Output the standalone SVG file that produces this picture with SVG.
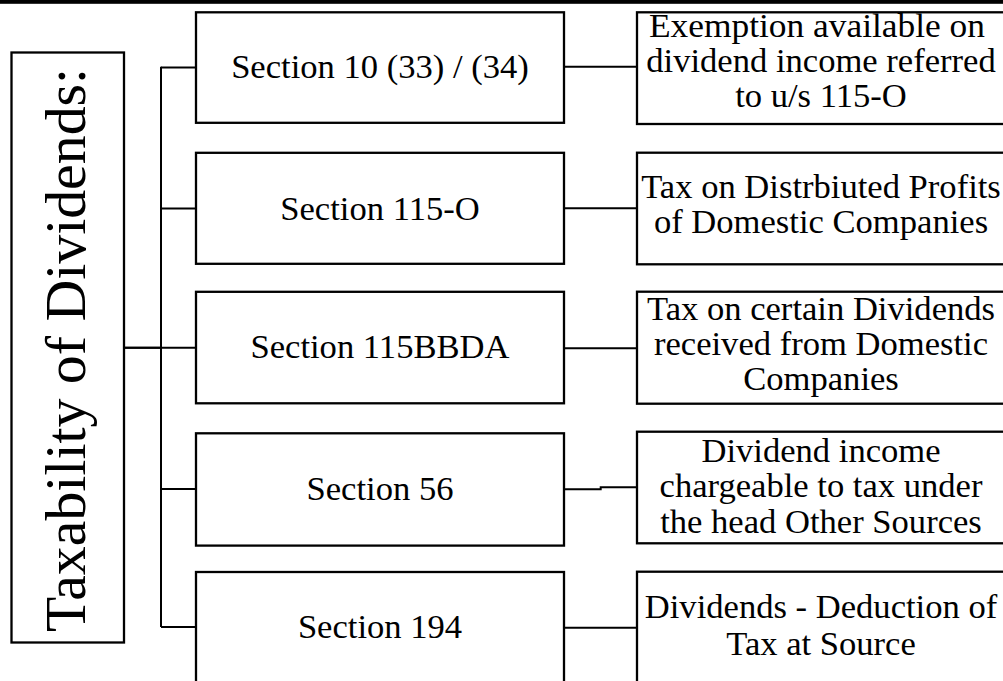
<svg xmlns="http://www.w3.org/2000/svg" width="1003" height="681" viewBox="0 0 1003 681">
<style>
.box{fill:#fff;stroke:#000;stroke-width:2.3}
.ln{fill:none;stroke:#000;stroke-width:2}
.t{font-family:'Liberation Serif','Tinos','Times New Roman','DejaVu Serif',serif;font-size:34.6px;fill:#000;text-anchor:middle}
.big{font-family:'Liberation Serif','Tinos','Times New Roman','DejaVu Serif',serif;font-size:57.8px;fill:#000;text-anchor:middle}
</style>
<rect x="0" y="0" width="1003" height="681" fill="#fff"/>
<rect x="0" y="0" width="1003" height="3.8" fill="#000"/>
<g id="connectors">
<path class="ln" d="M124 347.7H196"/>
<path class="ln" d="M124 347.7H161" stroke-width="3.2"/>
<path class="ln" d="M161 66.7V627" stroke-width="2.6"/>
<path class="ln" d="M161 67.5H196"/>
<path class="ln" d="M161 208.5H196"/>
<path class="ln" d="M161 489H196"/>
<path class="ln" d="M161 627H196"/>
<path class="ln" d="M564 66.7H637"/>
<path class="ln" d="M564 208.3H637"/>
<path class="ln" d="M564 348.3H637"/>
<path class="ln" d="M564 489.3H600.7V487.3H637"/>
<path class="ln" d="M564 627.7H637"/>
</g>
<g id="root">
<rect class="box" x="11.5" y="52.5" width="112.5" height="590"/>
<text class="big" transform="translate(85,350) rotate(-90)">Taxability of Dividends:</text>
</g>
<g id="s10">
<rect class="box" x="196" y="12.3" width="368" height="110.5"/>
<text class="t" x="380" y="78.3">Section 10 (33) / (34)</text>
</g>
<g id="s115o">
<rect class="box" x="196" y="152.8" width="368" height="111"/>
<text class="t" x="380" y="219.5">Section 115-O</text>
</g>
<g id="s115bbda">
<rect class="box" x="196" y="291.8" width="368" height="111.5"/>
<text class="t" x="380" y="358.3">Section 115BBDA</text>
</g>
<g id="s56">
<rect class="box" x="196" y="433.3" width="368" height="112.3"/>
<text class="t" x="380" y="500.3">Section 56</text>
</g>
<g id="s194">
<rect class="box" x="196" y="572" width="368" height="130"/>
<text class="t" x="380" y="638.3">Section 194</text>
</g>
<g id="d10">
<rect class="box" x="637" y="12.3" width="372" height="111.7"/>
<text class="t" x="817" y="36.7" textLength="336" lengthAdjust="spacingAndGlyphs">Exemption available on</text>
<text class="t" x="821" y="71.7">dividend income referred</text>
<text class="t" x="821" y="106.7">to u/s 115-O</text>
</g>
<g id="d115o">
<rect class="box" x="637" y="152.7" width="372" height="111.6"/>
<text class="t" x="821" y="198.3">Tax on Distrbiuted Profits</text>
<text class="t" x="821" y="233.3">of Domestic Companies</text>
</g>
<g id="d115bbda">
<rect class="box" x="637" y="291.7" width="372" height="112"/>
<text class="t" x="821" y="320">Tax on certain Dividends</text>
<text class="t" x="821" y="355">received from Domestic</text>
<text class="t" x="821" y="390">Companies</text>
</g>
<g id="d56">
<rect class="box" x="637" y="431.7" width="372" height="111.6"/>
<text class="t" x="821" y="461.7">Dividend income</text>
<text class="t" x="821" y="497">chargeable to tax under</text>
<text class="t" x="821" y="532.5">the head Other Sources</text>
</g>
<g id="d194">
<rect class="box" x="637" y="571.7" width="372" height="130"/>
<text class="t" x="821" y="618.3">Dividends - Deduction of</text>
<text class="t" x="821" y="655">Tax at Source</text>
</g>
</svg>
